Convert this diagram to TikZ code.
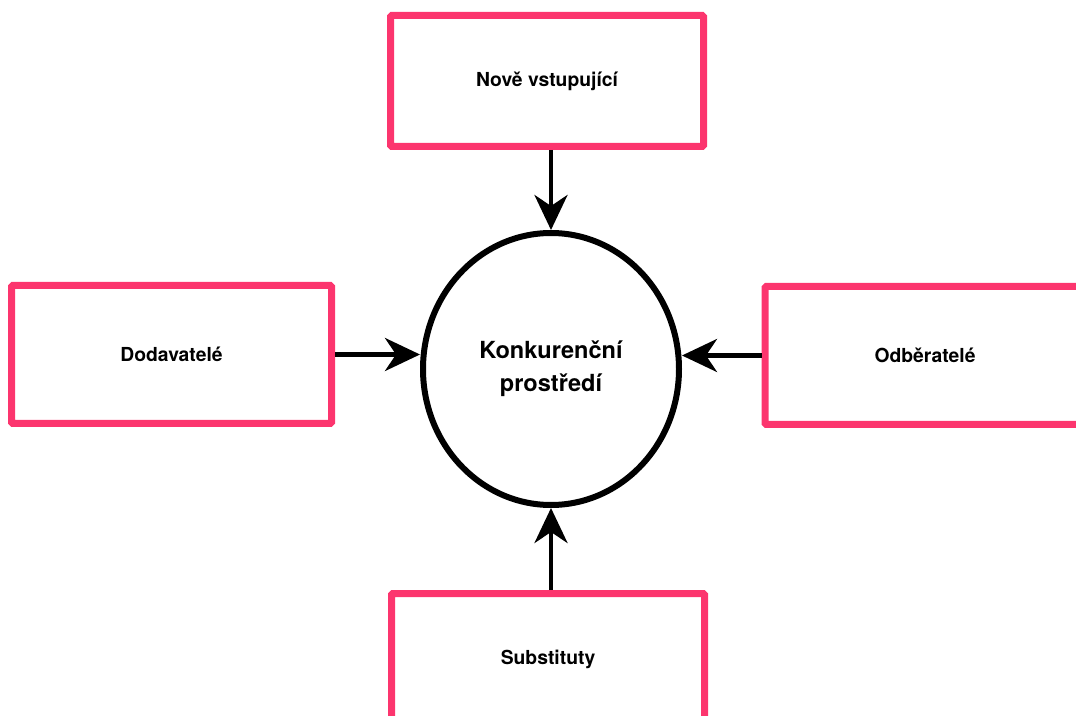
\documentclass[tikz,border=0pt]{standalone}
\usepackage{fontspec}
\setmainfont{TeX Gyre Heros}
\usetikzlibrary{arrows.meta,shapes.geometric}

\definecolor{boxpink}{RGB}{252,53,110}
\def\px{0.02cm}

\tikzset{
	forcebox/.style={draw=boxpink, line width=7*\px, rounded corners=0.8pt,
		font=\bfseries\fontsize{11}{13}\selectfont},
	market/.style={ellipse, draw=black, line width=6*\px, align=center,
		font=\bfseries\fontsize{13.4}{19}\selectfont},
	force/.style={line width=4.5*\px, -{Stealth[length=0.7cm, width=0.66cm, inset=0.22cm]}}
}

\begin{document}
\begin{tikzpicture}[x=\px, y=-\px]

	%picture is measured in pixels, origin top left, y grows downwards
	\useasboundingbox (0,0) rectangle (1076,716);
	\clip (0,0) rectangle (1076,716);

	%the market in the middle
	\node[market, minimum width=256*\px, minimum height=272*\px] (market) at (551,369) {Konkurenční\\prostředí};

	%the four forces round it
	\foreach \name/\xpos/\ypos/\boxw/\boxh/\boxtext in {entrants/547/81/313/131/{Nově vstupující},
		suppliers/171.5/354.5/320/138/Dodavatelé,
		buyers/925/355.5/320/138/Odběratelé,
		substitutes/548/659/313/131/Substituty}
   {
		\node[forcebox, minimum width=\boxw*\px, minimum height=\boxh*\px] (\name) at (\xpos,\ypos) {\boxtext};
   }

	%arrows pointing into the market
	\draw[force] (entrants.south -| market.center) -- (market.north);
	\draw[force] (suppliers.east) -- (suppliers.east -| market.west);
	\draw[force] (buyers.west) -- (buyers.west -| market.east);
	\draw[force] (substitutes.north -| market.center) -- (market.south);

\end{tikzpicture}
\end{document}
